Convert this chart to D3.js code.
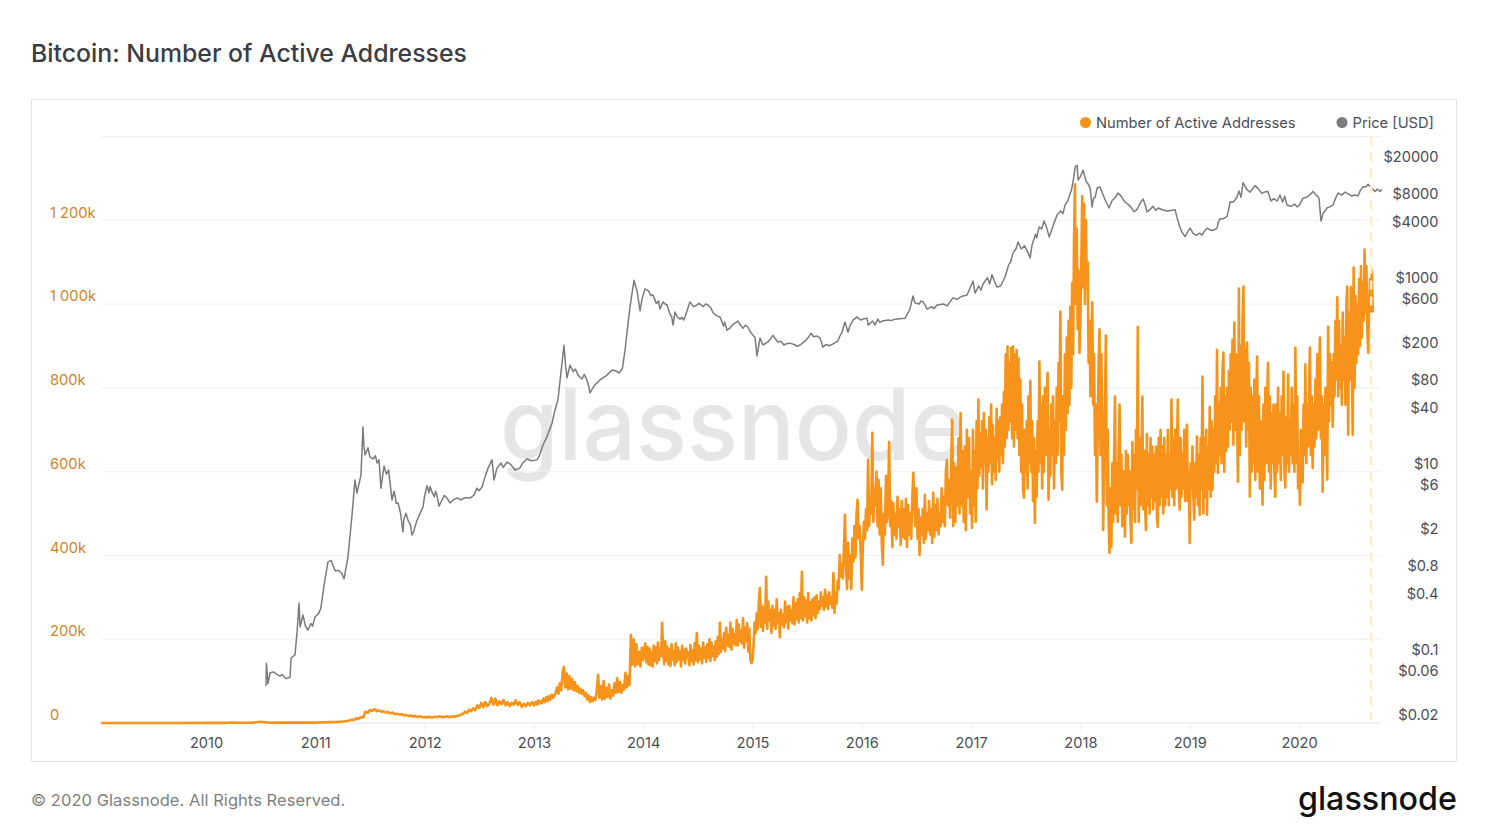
<!DOCTYPE html>
<html>
<head>
<meta charset="utf-8">
<script src="https://cdn.jsdelivr.net/npm/d3@7"></script>
<style>
html,body{margin:0;padding:0;background:#fff;overflow:hidden}
svg{display:block}
text{font-family:Inter,"Noto Sans",sans-serif}
</style>
</head>
<body>
<svg id="chart" width="1488" height="837"></svg>
<script>
const titleText = "Bitcoin: Number of Active Addresses";
const footerText = "© 2020 Glassnode. All Rights Reserved.";
const brandText = "glassnode";
const legendLabels = ["Number of Active Addresses", "Price [USD]"];

const yearTicks = [2010,2011,2012,2013,2014,2015,2016,2017,2018,2019,2020];
const addressTicks = [0,200,400,600,800,1000,1200];
const addressGrid = [0,200,400,600,800,1000,1200,1400];
const addressTickLabels = ["0","200k","400k","600k","800k","1 000k","1 200k"];
const priceTicks = [20000,8000,4000,1000,600,200,80,40,10,6,2,0.8,0.4,0.1,0.06,0.02];
const priceTickLabels = ["$20000","$8000","$4000","$1000","$600","$200","$80","$40","$10","$6","$2","$0.8","$0.4","$0.1","$0.06","$0.02"];
const markerYear = 2020.66;

// Active addresses, thousands; each list is read left to right through its year
const addr2009 = [0.1,0.1,0.1,0.1];
const addr2010 = [0.3,0.3,0.4,1.2,0.5,0.6,3,0.7,0.8,0.9,1,1];
const addr2011 = [1,1.2,1.5,1.3,2,1.8,2.2,2,2.5,2.3,3,2.8,3.5,4,5,6,8,7,11,10,14,13,27,24,31,29,33,28,30,27,28,25,26,23,25,21,22,20,21,18,19,17,18,15,17,14,16,14];
const addr2012 = [14,13,15,14,13,15,14,16,15,14,15,16,14,15,16,15,17,18,20,22,27,24,32,28,35,30,42,36,48,38,50,40,46,60,44,58,42,52,45,55,42,50,40,48,44,54,43,50,38,46,40,48,42,50];
const addr2013 = [42,50,44,54,46,52,48,58,50,62,52,64,55,68,60,66,72,85,70,95,78,120,134,85,118,80,112,82,105,78,98,76,88,72,82,70,78,64,72,56,66,50,62,52,60,55,78,115,60,88,56,100,58,84,62,92,58,78,65,95,72,107,74,98,72,90,80,120,85,112,90,210,140,200,135,188,140,170,135,180];
const addr2014 = [150,175,190,145,182,140,178,138,170,135,185,148,180,142,192,150,175,160,239,170,140,195,148,182,140,176,136,188,150,172,138,190,146,180,152,170,135,184,150,175,142,178,155,168,138,186,148,174,140,190,150,215,145,185,152,178,142,192,155,180,146,188,155,200,148,192,160,182,150,195,158,205,165,239,170,200,178,215,172,228,185,210,182,240,175,225,190,212,186,246,185,235,195,220,190,250,180,228,195,238,170,225,150,143];
const addr2015 = [150,185,240,215,262,225,285,322,230,280,220,275,240,349,225,290,245,270,215,280,232,270,225,295,240,262,205,270,235,258,228,290,240,276,225,280,245,268,238,300,235,285,248,295,240,310,250,361,245,300,255,292,240,310,250,288,245,295,258,300,250,305,262,290,272,312,280,300,270,318,278,305,272,312,285,300,275,358,263,310,285,340,320,401,350,380,345,420,497,370,320,430,345,400,320,440,385,470,395,500,533,440,470,400];
const addr2016 = [318,420,480,440,510,460,628,470,540,500,693,480,560,520,600,470,580,450,560,430,378,500,450,590,480,520,671,470,530,420,525,450,500,440,540,470,510,425,530,445,510,440,535,420,520,450,500,440,530,597,520,470,560,440,510,401,490,450,510,430,545,440,500,460,530,450,510,430,550,445,520,460,535,450,500,470,560,480,540,470,600,628,520,580,490,610,724,470,620,480,610,520,680,500,740,520,650,480,660,460,700,540,680,500];
const addr2017 = [600,466,700,520,650,480,720,560,772,590,690,610,720,560,740,620,700,510,680,600,730,620,760,570,710,600,680,580,750,630,720,600,730,640,760,620,790,660,880,680,899,700,860,720,895,680,899,660,880,700,890,680,870,640,820,600,760,560,538,700,600,720,560,780,620,817,600,720,530,680,478,650,540,720,600,863,620,760,560,780,600,800,640,780,836,533,700,590,760,640,780,560,720,620,800,640,860,720,982,600,557,780,640,880,700,920,740,960,760,994,800,1050,880,1150,1286,1000,1180,940,1080,884];
const addr2018 = [960,1100,1257,1040,1240,1000,1200,1050,1100,860,960,780,900,1004,760,880,640,760,528,700,860,940,640,880,700,461,640,780,925,520,700,480,406,560,420,620,480,640,779,500,620,480,660,760,520,640,470,600,520,445,650,500,640,520,600,480,430,670,510,640,480,700,560,946,480,680,520,620,779,510,650,520,461,690,520,640,500,680,540,660,510,640,530,660,490,468,680,520,700,540,660,500,680,520,640,540,700,520,640,560,772,540,680,520,700,560,660,772,560,509,680,540,640,560,700,530,620,712,530,600];
const addr2019 = [430,620,560,660,540,485,620,540,684,520,640,497,680,560,827,500,680,540,700,497,660,560,755,540,720,557,700,600,780,620,891,597,760,640,800,620,840,884,600,780,650,800,660,840,700,880,720,915,664,956,700,880,720,576,1037,640,900,700,960,1042,720,890,660,908,700,860,540,800,600,780,620,820,580,760,875,600,780,560,720,620,521,760,580,800,620,780,860,600,780,560,740,620,760,600,540,760,600,800,620,740,580,780,640,839,600,562,730,620,832,600,720,640,800,620,760,600,896,620,780,560];
const addr2020 = [620,521,700,600,574,760,640,856,620,760,660,800,896,640,780,609,760,660,820,680,880,700,840,920,680,780,552,760,640,800,700,581,946,720,880,760,860,707,880,780,960,820,1016,780,960,800,900,760,980,820,920,760,1000,1042,688,980,820,1040,860,688,1087,800,1020,860,1000,880,1060,900,1090,920,1050,960,1130,980,1090,940,884,1000,1060,980,1082,980];
const addressYears = [2009,2010,2011,2012,2013,2014,2015,2016,2017,2018,2019,2020];
const addressLists = [addr2009,addr2010,addr2011,addr2012,addr2013,addr2014,addr2015,addr2016,addr2017,addr2018,addr2019,addr2020];
const samplesPerYear = [4,12,48,54,80,104,104,104,120,120,120,120];

// Price, USD: main turning points
const priceYears = [2010.549,2010.553,2010.567,2010.586,2010.613,2010.677,2010.769,2010.778,2010.814,2010.833,2010.851,2010.860,2010.887,2010.933,2010.997,
2011.061,2011.088,2011.116,2011.162,2011.208,2011.263,2011.299,2011.336,2011.363,2011.381,2011.418,2011.436,2011.455,2011.482,2011.528,2011.583,2011.601,2011.629,2011.684,2011.702,2011.729,2011.757,2011.802,2011.830,2011.848,2011.885,2011.931,2011.985,
2012.021,2012.067,2012.113,2012.131,2012.205,2012.232,2012.305,2012.415,2012.479,2012.525,2012.552,2012.617,2012.635,2012.662,2012.754,2012.827,2012.937,
2013.028,2013.083,2013.166,2013.220,2013.275,2013.303,2013.330,2013.403,2013.477,2013.513,2013.605,2013.715,2013.779,2013.834,2013.879,2013.916,2013.943,2013.971,
2014.016,2014.090,2014.154,2014.181,2014.218,2014.273,2014.291,2014.337,2014.382,2014.428,2014.492,2014.593,2014.639,2014.703,2014.767,2014.867,2014.913,2014.959,
2015.023,2015.041,2015.069,2015.096,2015.188,2015.288,2015.343,2015.435,2015.535,2015.618,2015.645,2015.737,2015.819,2015.846,2015.874,2015.956,
2016.048,2016.057,2016.148,2016.185,2016.304,2016.396,2016.468,2016.487,2016.560,2016.597,2016.688,2016.807,2016.834,2016.963,
2017.018,2017.036,2017.109,2017.191,2017.237,2017.310,2017.384,2017.430,2017.540,2017.558,2017.622,2017.668,2017.714,2017.787,2017.860,2017.887,2017.952,2017.970,2017.979,
2018.025,2018.089,2018.107,2018.153,2018.180,2018.262,2018.344,2018.408,2018.490,2018.573,2018.610,2018.664,2018.710,2018.866,2018.911,2018.957,
2019.003,2019.113,2019.159,2019.250,2019.278,2019.342,2019.369,2019.433,2019.488,2019.552,2019.597,2019.716,2019.744,2019.826,2019.890,2019.982,
2020.037,2020.128,2020.183,2020.201,2020.256,2020.311,2020.357,2020.421,2020.540,2020.586,2020.632,2020.696,2020.760];
const priceValues = [.05,.088,.053,.069,.071,.064,.062,.1,.108,.19,.39,.215,.29,.2,.276,
.42,.69,1.08,.98,.88,.71,1.22,3.45,8.2,5.95,9.3,30.5,15.2,18.2,13.8,13.5,6.7,11.6,7.6,5,5.7,4.65,2.27,3.6,3.05,2.1,3.05,4.2,
7.1,6.1,5.66,4.3,5.25,4.65,5.25,5.25,6.7,6.9,8.8,13.5,8.2,11,12.8,10.5,13.8,
13.5,19.5,33.5,60,230,103,141,110,103,71,98,125,116,205,595,1150,900,540,
930,800,565,675,625,380,525,440,465,675,625,625,515,465,335,420,350,360,
280,177,275,232,295,232,243,232,310,275,220,238,318,410,318,465,
450,380,440,420,440,450,780,655,675,565,625,675,745,800,
1130,840,1050,1320,975,1250,2270,2970,2000,2770,4300,5000,3370,5800,7400,8400,19000,19900,13800,
17600,11300,7100,11300,11600,6900,10000,8000,6250,8600,6250,7200,6900,6600,4250,3400,
4190,3530,4190,4190,5300,5600,8000,9000,12900,10200,12000,10400,8200,9500,7400,7100,
8800,10400,8800,5000,6900,7400,10000,10200,9300,11700,12400,10400,10900];

// Price, USD: the smaller moves between them
const priceMinorYears = [2010.7,2010.73,2010.91,2010.96,2010.975,2011.03,2011.05,2011.145,2011.185,2011.24,2011.445,2011.50,2011.55,2011.565,2011.65,2011.67,2011.72,2011.74,2011.78,2011.81,2011.87,2011.90,2011.955,2012.0,
2012.04,2012.05,2012.09,2012.10,2012.16,2012.18,2012.27,2012.33,2012.37,2012.45,2012.50,2012.58,2012.70,2012.72,2012.79,2012.87,2012.90,2012.98,
2013.05,2013.12,2013.19,2013.29,2013.36,2013.38,2013.44,2013.46,2013.50,2013.55,2013.66,2013.75,2013.81,2013.855,2013.93,2013.99,
2014.05,2014.07,2014.12,2014.14,2014.20,2014.245,2014.26,2014.31,2014.355,2014.37,2014.405,2014.46,2014.51,2014.55,2014.57,2014.62,2014.67,2014.735,2014.745,2014.79,2014.82,2014.89,2014.935,2014.985,
2015.14,2015.16,2015.23,2015.26,2015.31,2015.38,2015.41,2015.48,2015.51,2015.56,2015.59,2015.67,2015.70,2015.78,2015.80,2015.89,2015.92,2015.99,
2016.02,2016.10,2016.12,2016.165,2016.24,2016.27,2016.35,2016.44,2016.525,2016.54,2016.58,2016.64,2016.66,2016.75,2016.78,2016.87,2016.91,2016.99,
2017.07,2017.09,2017.15,2017.17,2017.21,2017.27,2017.345,2017.36,2017.41,2017.46,2017.49,2017.52,2017.59,2017.60,2017.645,2017.69,2017.74,2017.76,2017.82,2017.84,2017.92,2017.94,
2018.0,2018.05,2018.07,2018.12,2018.135,2018.21,2018.235,2018.29,2018.32,2018.375,2018.39,2018.44,2018.465,2018.52,2018.55,2018.59,2018.64,2018.69,2018.75,2018.79,2018.83,2018.885,2018.93,2018.98,
2019.03,2019.06,2019.09,2019.135,2019.2,2019.23,2019.26,2019.31,2019.355,2019.40,2019.45,2019.47,2019.52,2019.57,2019.63,2019.66,2019.69,2019.77,2019.80,2019.85,2019.87,2019.93,2019.96,
2020.0,2020.07,2020.10,2020.15,2020.17,2020.22,2020.28,2020.335,2020.39,2020.45,2020.48,2020.51,2020.56,2020.61,2020.66,2020.72,2020.74];
const priceMinorValues = [.066,.06,.22,.235,.22,.3,.34,1.12,.86,.82,19,14.5,15,12.5,9.5,10.5,6.2,4.6,3.6,3.1,2.7,2.3,3.5,5.5,
6,7,5.4,6.2,5,5.6,5.1,5,5.3,5.6,6.3,11,12.5,11.2,12,11,12.6,13.2,
15,24,45,140,120,128,100,112,85,84,108,122,130,340,1000,730,
880,790,650,690,640,500,470,470,460,430,560,600,650,600,640,580,480,370,410,350,385,380,380,315,
250,265,250,255,240,235,225,255,280,285,290,235,228,255,290,370,430,430,
445,420,380,405,430,425,445,560,640,690,620,600,570,640,610,720,770,950,
1000,900,1230,1050,1150,1000,1700,1800,2500,2500,2700,2300,3600,3300,4100,4300,4100,4800,6400,6000,11000,15000,
15000,13500,12500,8800,9000,9400,8000,8300,9000,9200,8600,7500,7000,6700,7900,7600,6700,6500,6600,6400,6500,5400,3800,3800,
3700,3500,3700,3900,3950,4050,4800,5300,6500,8000,10500,9000,11000,10900,11000,9900,10300,8700,8200,8000,9200,7200,7600,
7300,9000,9600,9700,9200,6000,7100,8800,9500,9800,9300,9500,10600,11600,11400,11000,10400];

const addressPoints = addressLists.flatMap((list, k) =>
  list.map((v, i) => ({ t: addressYears[k] + i / samplesPerYear[k], v })));
const pricePoints = priceYears.map((t, i) => ({ t, v: priceValues[i] }))
  .concat(priceMinorYears.map((t, i) => ({ t, v: priceMinorValues[i] })))
  .sort((a, b) => a.t - b.t);

const plot = { left: 101, right: 1381, bottom: 723, top: 136.5 };
const svg = d3.select("#chart");

const x = d3.scaleLinear().domain([2010 + (plot.left - 206) / 109.3, 2010 + (plot.right - 206) / 109.3]).range([plot.left, plot.right]);
const yAddr = d3.scaleLinear().domain([0, 1400]).range([plot.bottom, plot.top]);
const yPrice = d3.scaleLog().domain([0.02, 0.02 * Math.pow(10, (plot.bottom - plot.top) / 93)]).range([plot.bottom, plot.top]);

svg.append("rect").attr("x", 31.5).attr("y", 99.5).attr("width", 1425).attr("height", 662)
  .attr("fill", "#fff").attr("stroke", "#e4e4e4");

svg.append("text").attr("x", 31).attr("y", 62).attr("font-size", 24.8).attr("font-weight", 500)
  .attr("fill", "#3a3d44").text(titleText);

// watermark
svg.append("text").attr("x", 500).attr("y", 460)
  .attr("font-size", 100).attr("font-weight", 500).attr("fill", "#e6e6e6")
  .attr("textLength", 466).attr("lengthAdjust", "spacingAndGlyphs").text(brandText);

// gridlines
svg.append("g").selectAll("line").data(addressGrid).join("line")
  .attr("x1", plot.left).attr("x2", plot.right)
  .attr("y1", d => yAddr(d)).attr("y2", d => yAddr(d))
  .attr("stroke", d => d === 0 ? "#e6e6e6" : "#f1f1f1").attr("stroke-width", 1);

// x axis
const xAxis = d3.axisBottom(x).tickValues(yearTicks).tickFormat(d3.format("d")).tickSize(10).tickPadding(5);
const gx = svg.append("g").attr("transform", `translate(0,${plot.bottom})`).call(xAxis);
gx.select(".domain").remove();
gx.selectAll("line").attr("stroke", "#eeeeee");
gx.selectAll("text").attr("font-size", 14.6).attr("fill", "#4a4d57").attr("font-family", "Inter");

// left axis
const yAxisL = d3.axisLeft(yAddr).tickValues(addressTicks).tickFormat((d, i) => addressTickLabels[i]).tickSize(0);
const gl = svg.append("g").attr("transform", `translate(${plot.left},0)`).call(yAxisL);
gl.select(".domain").remove();
gl.selectAll("text").attr("x", 50 - plot.left).attr("dy", "-0.22em").attr("text-anchor", "start")
  .attr("font-size", 14.7).attr("fill", "#d0842a").attr("font-family", "Inter");

// right axis
const yAxisR = d3.axisRight(yPrice).tickValues(priceTicks).tickFormat((d, i) => priceTickLabels[i]).tickSize(0);
const gr = svg.append("g").attr("transform", `translate(1438.5,0)`).call(yAxisR);
gr.select(".domain").remove();
gr.selectAll("text").attr("x", 0).attr("dy", "-0.22em").attr("text-anchor", "end")
  .attr("font-size", 14.6).attr("fill", "#4a4d57").attr("font-family", "Inter");

// series
svg.append("defs").append("clipPath").attr("id", "plotClip").append("rect")
  .attr("x", plot.left).attr("y", plot.top).attr("width", plot.right - plot.left + 2).attr("height", plot.bottom - plot.top + 2);

const addrLine = d3.line().x(d => x(d.t)).y(d => yAddr(d.v)).curve(d3.curveLinear);
const priceLine = d3.line().x(d => x(d.t)).y(d => yPrice(d.v)).curve(d3.curveLinear);

svg.append("path").datum(pricePoints).attr("d", priceLine).attr("fill", "none")
  .attr("stroke", "#7b7b7b").attr("stroke-width", 1.5).attr("stroke-linejoin", "round");
svg.append("path").datum(addressPoints).attr("clip-path", "url(#plotClip)").attr("d", addrLine).attr("fill", "none")
  .attr("stroke", "#f7931a").attr("stroke-width", 2.6).attr("stroke-linejoin", "round");

// marker
svg.append("line").attr("x1", x(markerYear)).attr("x2", x(markerYear)).attr("y1", plot.top).attr("y2", 720)
  .attr("stroke", "#fdeccb").attr("stroke-width", 2.5).attr("stroke-dasharray", "9 7");

// legend
const legendX = [1085.5, 1342];
const legendColors = ["#f7931a", "#7b7b7b"];
const lg = svg.append("g").selectAll("g").data(legendLabels).join("g")
  .attr("transform", (d, i) => `translate(${legendX[i]},122.5)`);
lg.append("circle").attr("r", 5.5).attr("fill", (d, i) => legendColors[i]);
lg.append("text").attr("x", 10.5).attr("y", 5).attr("font-size", 14.7).attr("fill", "#4a4d57").text(d => d);

// footer
svg.append("text").attr("x", 31).attr("y", 806).attr("font-size", 16.5).attr("fill", "#7f7f7f").attr("letter-spacing", 0.05).text(footerText);
svg.append("text").attr("x", 1298).attr("y", 810).attr("font-size", 33)
  .attr("font-weight", 500).attr("fill", "#111").attr("textLength", 159).attr("lengthAdjust", "spacingAndGlyphs").text(brandText);
</script>
</body>
</html>
